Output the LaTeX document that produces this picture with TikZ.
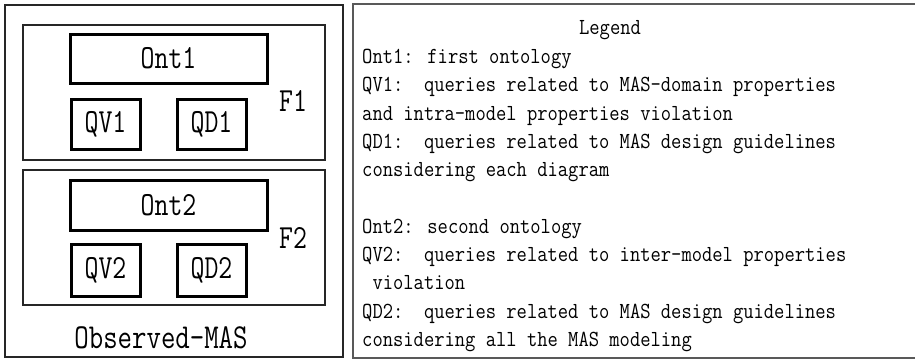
\documentclass[tikz,border=0pt]{standalone}
\usepackage{graphicx}
\newcommand{\lab}[2][27]{{\fontsize{#1}{#1}\ttfamily\scalebox{1}[1.25]{#2}}}
\newcommand{\lgt}[1]{\scalebox{1}[1.15]{#1}}
\tikzset{
  tbox/.style={draw=black, line width=3pt, inner sep=0pt},
  fbox/.style={draw=black!85, line width=2pt},
  leg/.style={anchor=base west, inner sep=0pt, font=\fontsize{20}{24}\ttfamily},
  flab/.style={inner sep=0pt}
}
\begin{document}
\begin{tikzpicture}[x=1pt,y=-1pt]
\useasboundingbox (0,0) rectangle (915,360);
% left part
\draw[fbox] (5,5) rectangle (343,357);
\draw[fbox] (23,25) rectangle (325,160);
\draw[fbox] (23,170) rectangle (325,305);
\node[tbox, minimum width=197, minimum height=49] (ont1) at (168.5,58.5) {\lab{Ont1}};
\node[tbox, minimum width=69, minimum height=50] (qv1) at (105.5,124) {\lab{QV1}};
\node[tbox, minimum width=69, minimum height=50] (qd1) at (211.5,124) {\lab{QD1}};
\node[flab] (f1) at (293,101) {\lab{F1}};
\node[tbox, minimum width=197, minimum height=50] (ont2) at (168.5,205) {\lab{Ont2}};
\node[tbox, minimum width=69, minimum height=52] (qv2) at (105.5,270) {\lab{QV2}};
\node[tbox, minimum width=69, minimum height=52] (qd2) at (211.5,270) {\lab{QD2}};
\node[flab] (f2) at (293,238) {\lab{F2}};
\node[flab] (obs) at (161,338) {\lab[28]{Observed-MAS}};
% legend box
\draw[draw=black!65, line width=1.5pt] (916,4) -- (353,4) -- (353,358) -- (916,358);
\node[anchor=base, inner sep=0pt, font=\fontsize{20}{24}\ttfamily] (title) at (610,34) {\lgt{Legend}};
\node[leg] (l1) at (362,63.5) {\lgt{Ont1: first ontology}};
\node[leg] (l2) at (362,91.8) {\lgt{QV1:\ \ queries related to MAS-domain properties}};
\node[leg] (l3) at (362,120.1) {\lgt{and intra-model properties violation}};
\node[leg] (l4) at (362,148.4) {\lgt{QD1:\ \ queries related to MAS design guidelines}};
\node[leg] (l5) at (362,176.7) {\lgt{considering each diagram}};
\node[leg] (l6) at (362,233.3) {\lgt{Ont2: second ontology}};
\node[leg] (l7) at (362,261.6) {\lgt{QV2:\ \ queries related to inter-model properties}};
\node[leg] (l8) at (362,289.9) {\lgt{\ violation}};
\node[leg] (l9) at (362,318.2) {\lgt{QD2:\ \ queries related to MAS design guidelines}};
\node[leg] (l10) at (362,346.5) {\lgt{considering all the MAS modeling}};
\end{tikzpicture}
\end{document}
